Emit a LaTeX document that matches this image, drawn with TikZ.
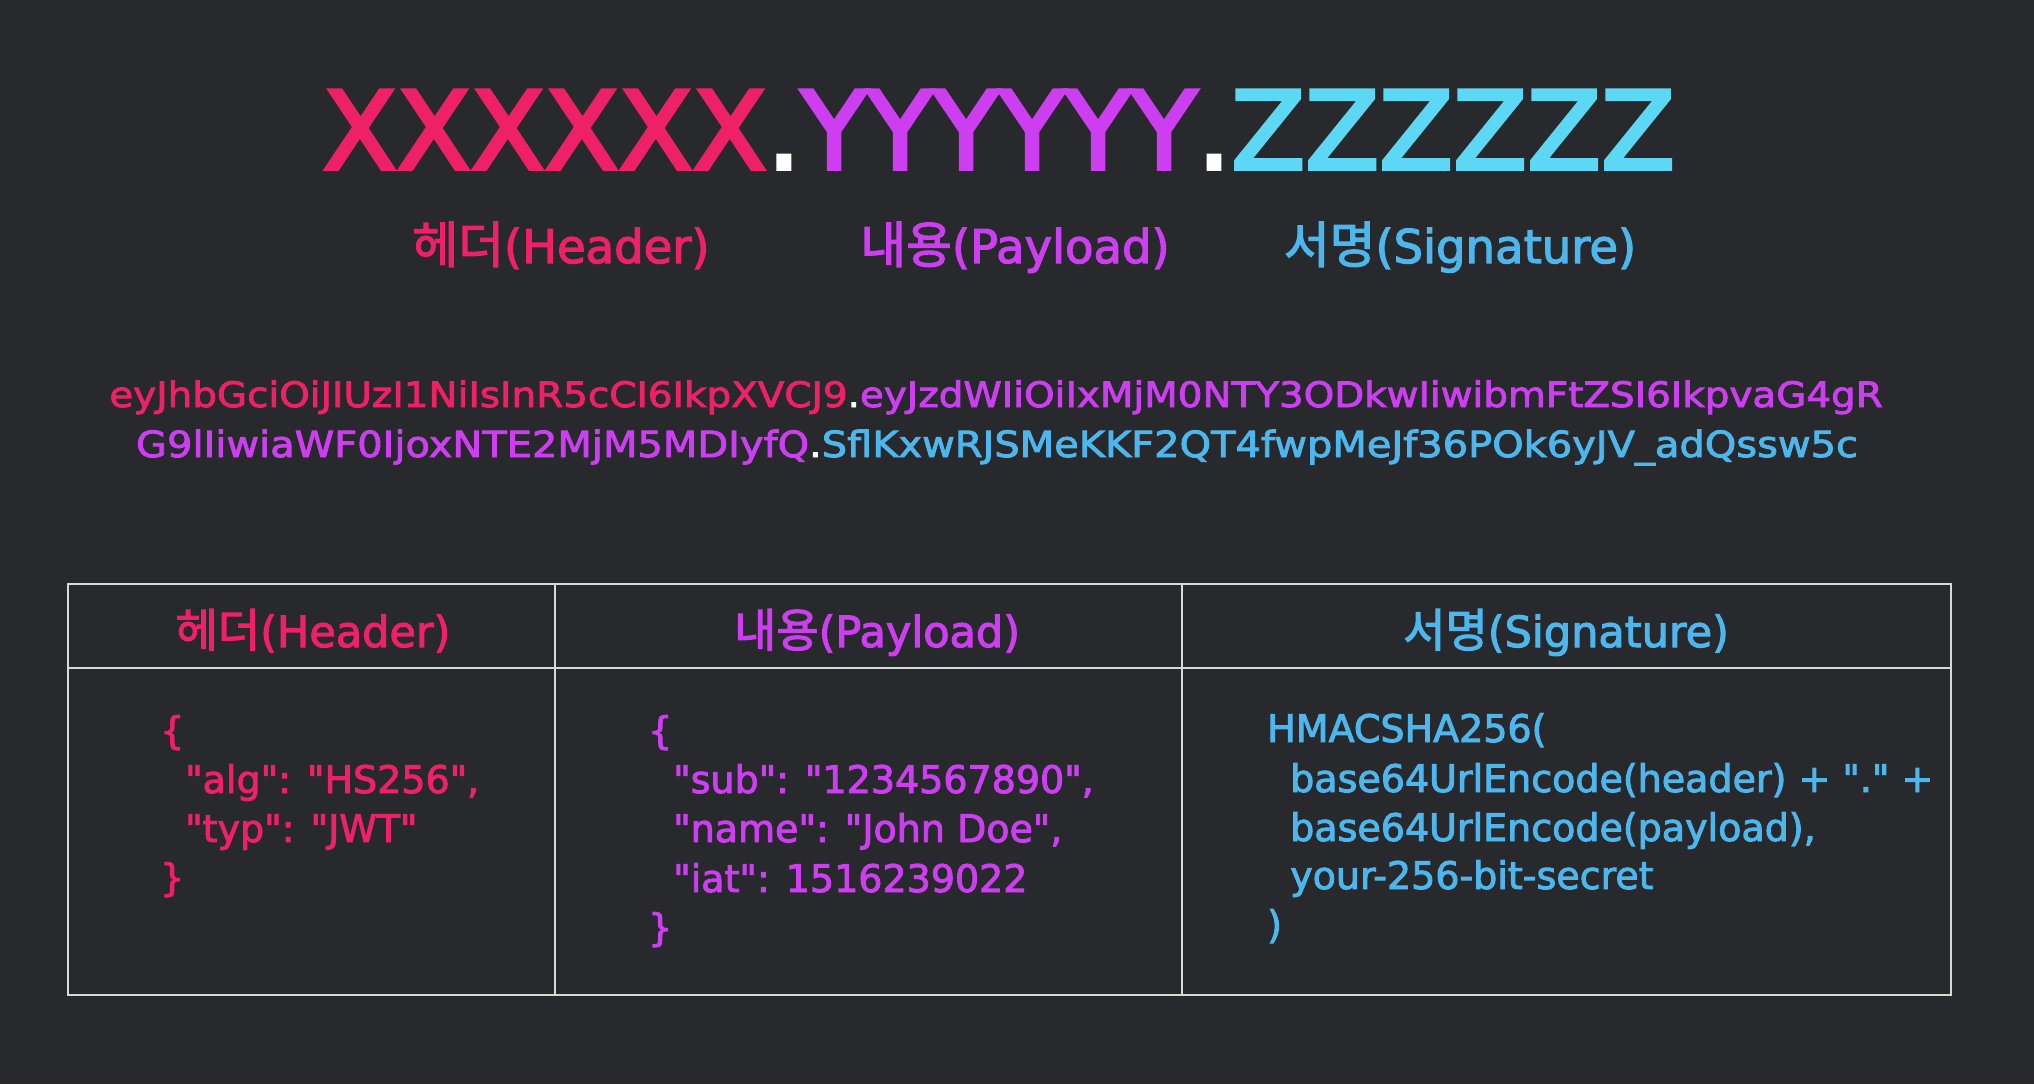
\documentclass[tikz,border=0pt]{standalone}
\usepackage{fontspec}
\setmainfont{DejaVu Sans}[Ligatures=TeXOff, FakeBold=2.5]
\newfontfamily\kr{Noto Sans CJK KR}[Scale=1.07, FakeBold=2.5]
\newfontfamily\tokfont{DejaVu Sans}[FakeStretch=1.11, FakeBold=2.5]
\newfontfamily\titlefont{DejaVu Sans}[FakeBold=3.5]
\definecolor{bg}{HTML}{28292C}
\definecolor{jwtpink}{HTML}{EE2066}
\definecolor{jwtpurple}{HTML}{CC3EF0}
\definecolor{jwtcyan}{HTML}{5CD8F5}
\definecolor{jwtblue}{HTML}{4DB6EC}
\definecolor{gridline}{HTML}{D9D9D9}
\tikzset{
  titletext/.style={anchor=base, inner sep=0pt, font=\titlefont\fontsize{108}{120}\selectfont},
  subtext/.style={anchor=base, inner sep=0pt, font=\fontsize{46.5}{52}\selectfont},
  toktext/.style={anchor=base, inner sep=0pt, font=\tokfont\fontsize{35}{40}\selectfont},
  tokwide/.style={anchor=base, inner sep=0pt, font=\tokfont\fontsize{36}{40}\selectfont},
  headtext/.style={anchor=base, inner sep=0pt, font=\fontsize{43}{48}\selectfont},
  bodytext/.style={anchor=base west, inner sep=0pt, font=\fontsize{38}{44}\selectfont},
  tableline/.style={draw=gridline, line width=1.6pt},
}
\begin{document}
\begin{tikzpicture}[x=1pt,y=-1pt]
\fill[bg] (0,0) rectangle (2034,1084);
\useasboundingbox (0,0) rectangle (2034,1084);

% title
\node[titletext] (title) at (999,169) {\textcolor{jwtpink}{XXXXXX}\textcolor{white}{.}\textcolor{jwtpurple}{YYYYYY}\textcolor{white}{.}\textcolor{jwtcyan}{ZZZZZZ}};

% subtitles
\node[subtext, text=jwtpink] (subh) at (561,263) {{\kr 헤더}(Header)};
\node[subtext, text=jwtpurple] (subp) at (1015,263) {{\kr 내용}(Payload)};
\node[subtext, text=jwtblue] (subs) at (1460,263) {{\kr 서명}(Signature)};

% token
\node[toktext] (tok1) at (996,407) {\textcolor{jwtpink}{eyJhbGciOiJIUzI1NiIsInR5cCI6IkpXVCJ9}\textcolor{white}{.}\textcolor{jwtpurple}{eyJzdWIiOiIxMjM0NTY3ODkwIiwibmFtZSI6IkpvaG4gR}};
\node[tokwide] (tok2) at (997,457) {\textcolor{jwtpurple}{G9lIiwiaWF0IjoxNTE2MjM5MDIyfQ}\textcolor{white}{.}\textcolor{jwtblue}{SflKxwRJSMeKKF2QT4fwpMeJf36POk6yJV\_adQssw5c}};

% table
\draw[tableline] (68,584) rectangle (1951,995);
\draw[tableline] (68,668) -- (1951,668);
\draw[tableline] (555,584) -- (555,995);
\draw[tableline] (1182,584) -- (1182,995);

\node[headtext, text=jwtpink] (th) at (313,647) {{\kr 헤더}(Header)};
\node[headtext, text=jwtpurple] (tp) at (877,647) {{\kr 내용}(Payload)};
\node[headtext, text=jwtblue] (ts) at (1566,647) {{\kr 서명}(Signature)};

% header body
\node[bodytext, text=jwtpink] (h1) at (160,744) {\{};
\node[bodytext, text=jwtpink] (h2) at (185,793) {"alg": "HS256",};
\node[bodytext, text=jwtpink] (h3) at (185,842) {"typ": "JWT"};
\node[bodytext, text=jwtpink] (h4) at (160,891) {\}};

% payload body
\node[bodytext, text=jwtpurple] (p1) at (648,744) {\{};
\node[bodytext, text=jwtpurple] (p2) at (673,793) {"sub": "1234567890",};
\node[bodytext, text=jwtpurple] (p3) at (673,842) {"name": "John Doe",};
\node[bodytext, text=jwtpurple] (p4) at (673,892) {"iat": 1516239022};
\node[bodytext, text=jwtpurple] (p5) at (648,941) {\}};

% signature body
\node[bodytext, text=jwtblue] (s1) at (1267,742) {HMACSHA256(};
\node[bodytext, text=jwtblue] (s2) at (1290,792) {base64UrlEncode(header) + "." +};
\node[bodytext, text=jwtblue] (s3) at (1290,841) {base64UrlEncode(payload),};
\node[bodytext, text=jwtblue] (s4) at (1290,889) {your-256-bit-secret};
\node[bodytext, text=jwtblue] (s5) at (1267,938) {)};
\end{tikzpicture}
\end{document}
